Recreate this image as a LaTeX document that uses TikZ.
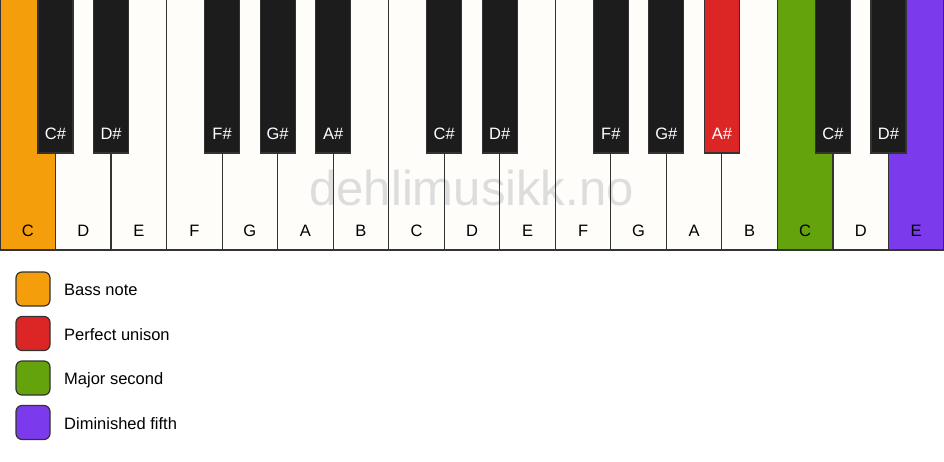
\documentclass[tikz,border=0pt]{standalone}
\usepackage{fontspec}
\setmainfont{Liberation Sans}
\definecolor{wkey}{HTML}{FEFDFA}
\definecolor{bkey}{HTML}{1C1C1C}
\definecolor{edge}{HTML}{333333}
\definecolor{cbass}{HTML}{F59E0B}
\definecolor{cuni}{HTML}{DC2626}
\definecolor{csec}{HTML}{65A30D}
\definecolor{cfifth}{HTML}{7C3AED}
\definecolor{wmark}{HTML}{DDDDDD}
\tikzset{
  whitekey/.style={draw=edge, line width=1.2pt},
  blackkey/.style={draw=edge, line width=1.2pt},
  wlabel/.style={anchor=base, font=\fontsize{16.5}{18}\selectfont, text=black, inner sep=0pt},
  blabel/.style={anchor=base, font=\fontsize{16.5}{18}\selectfont, text=white, inner sep=0pt},
  legbox/.style={draw=edge, line width=1.2pt, rounded corners=6pt, minimum width=34pt, minimum height=34pt, inner sep=0pt},
  legtext/.style={anchor=base west, font=\fontsize{16.5}{18}\selectfont, inner sep=0pt},
}
\begin{document}
\begin{tikzpicture}[x=1pt,y=-1pt]
\useasboundingbox (0,0) rectangle (944,461);
\fill[white] (0,0) rectangle (944,461);
\def\kw{55.529}
% white key fills
\foreach \i/\n/\c in {0/C/cbass,1/D/wkey,2/E/wkey,3/F/wkey,4/G/wkey,5/A/wkey,6/B/wkey,7/C/wkey,8/D/wkey,9/E/wkey,10/F/wkey,11/G/wkey,12/A/wkey,13/B/wkey,14/C/csec,15/D/wkey,16/E/cfifth}{
  \fill[\c] (\i*\kw,0) rectangle ({(\i+1)*\kw},250);
}
\node[anchor=base, font=\fontsize{49}{55}\selectfont, text=wmark, inner sep=0pt] (wm) at (471.5,205) {dehlimusikk.no};
% white key outlines and labels
\foreach \i/\n in {0/C,1/D,2/E,3/F,4/G,5/A,6/B,7/C,8/D,9/E,10/F,11/G,12/A,13/B,14/C,15/D,16/E}{
  \draw[whitekey] (\i*\kw,-2) rectangle ({(\i+1)*\kw},250);
  \node[wlabel] (w\i) at ({(\i+0.5)*\kw},236) {\n};
}
% black keys
\foreach \i/\n/\c in {1/C\#/bkey,2/D\#/bkey,4/F\#/bkey,5/G\#/bkey,6/A\#/bkey,8/C\#/bkey,9/D\#/bkey,11/F\#/bkey,12/G\#/bkey,13/A\#/cuni,15/C\#/bkey,16/D\#/bkey}{
  \filldraw[blackkey, fill=\c] ({\i*\kw-17.5},-2) rectangle ({\i*\kw+17.5},153);
  \node[blabel] (b\i) at ({\i*\kw},139) {\n};
}
% legend
\node[legbox, fill=cbass] (l1) at (33,289) {};
\node[legtext] (t1) at (64,295.5) {Bass note};
\node[legbox, fill=cuni] (l2) at (33,333.5) {};
\node[legtext] (t2) at (64,340) {Perfect unison};
\node[legbox, fill=csec] (l3) at (33,378) {};
\node[legtext] (t3) at (64,384.5) {Major second};
\node[legbox, fill=cfifth] (l4) at (33,422.5) {};
\node[legtext] (t4) at (64,429) {Diminished fifth};
\end{tikzpicture}
\end{document}
